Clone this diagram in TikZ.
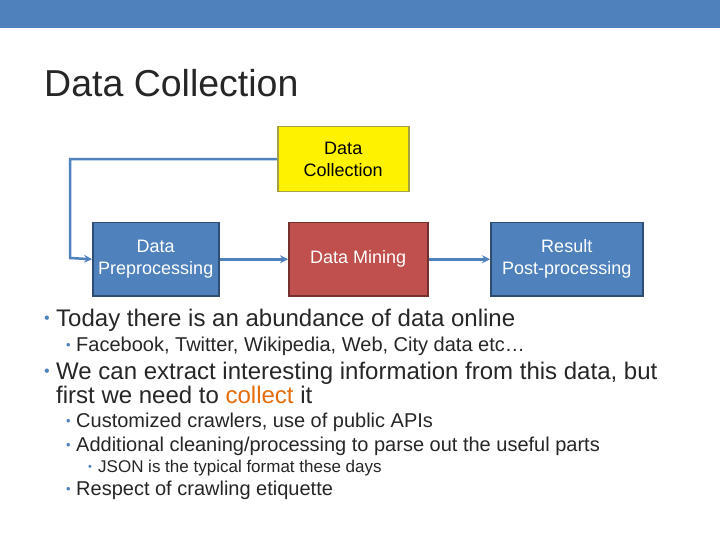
\documentclass[tikz,border=0pt]{standalone}
\usepackage{fontspec}
\setmainfont{Liberation Sans}
\usetikzlibrary{arrows.meta}
\definecolor{accb}{HTML}{4F81BD}
\definecolor{accr}{HTML}{C0504D}
\definecolor{txt}{HTML}{262626}
\definecolor{org}{HTML}{E46C0A}
\begin{document}
\begin{tikzpicture}[x=1pt,y=-1pt,
  box/.style={draw=#1!60!black,line width=1.5pt,align=center,font=\fontsize{18}{22}\selectfont,inner sep=0pt,anchor=north west},
  conn/.style={draw=accb,line width=2.5pt,-{Stealth[length=8pt,width=8pt]}},
  l1/.style={anchor=west,font=\fontsize{24}{26}\selectfont,text=txt,inner sep=0pt},
  l2/.style={anchor=west,font=\fontsize{20}{22}\selectfont,text=txt,inner sep=0pt},
  l3/.style={anchor=west,font=\fontsize{17}{19}\selectfont,text=txt,inner sep=0pt},
  bl/.style={anchor=west,text=accb,inner sep=0pt}]
\useasboundingbox (0,0) rectangle (720,540);
\fill[accb] (0,0) rectangle (720,28);
\node[anchor=west,inner sep=0pt,font=\fontsize{37.5}{40}\selectfont,text=txt] (title) at (44,83) {Data Collection};
\node[box=yellow,fill=yellow,minimum width=131pt,minimum height=65pt] (dc) at (277,126) {Data\\Collection};
\node[box=accb,fill=accb,text=white,minimum width=126pt,minimum height=73pt] (dp) at (92,222) {Data\\Preprocessing};
\node[box=accr,fill=accr,text=white,minimum width=139pt,minimum height=73pt] (dm) at (288,222) {Data Mining};
\node[box=accb,fill=accb,text=white,minimum width=152pt,minimum height=73pt] (rp) at (490,222) {Result\\Post-processing};
\draw[conn] (dc.west) -| (70,258) -- (dp.west);
\draw[conn] (dp.east) -- (dm.west);
\draw[conn] (dm.east) -- (rp.west);
\node[bl,font=\fontsize{16}{16}\selectfont] (b1) at (44,320) {•};
\node[l1] (t1) at (56,320) {Today there is an abundance of data online};
\node[bl,font=\fontsize{13}{13}\selectfont] (b2) at (66,346) {•};
\node[l2] (t2) at (76,346) {Facebook, Twitter, Wikipedia, Web, City data etc…};
\node[bl,font=\fontsize{16}{16}\selectfont] (b3) at (44,373) {•};
\node[l1] (t3) at (56,373) {We can extract interesting information from this data, but};
\node[l1] (t4) at (56,395) {first we need to \textcolor{org}{collect} it};
\node[bl,font=\fontsize{13}{13}\selectfont] (b5) at (66,422) {•};
\node[l2] (t5) at (76,422) {Customized crawlers, use of public APIs};
\node[bl,font=\fontsize{13}{13}\selectfont] (b6) at (66,446) {•};
\node[l2] (t6) at (76,446) {Additional cleaning/processing to parse out the useful parts};
\node[bl,font=\fontsize{11}{11}\selectfont] (b7) at (88,468) {•};
\node[l3] (t7) at (98,468) {JSON is the typical format these days};
\node[bl,font=\fontsize{13}{13}\selectfont] (b8) at (66,490) {•};
\node[l2] (t8) at (76,490) {Respect of crawling etiquette};
\end{tikzpicture}
\end{document}
